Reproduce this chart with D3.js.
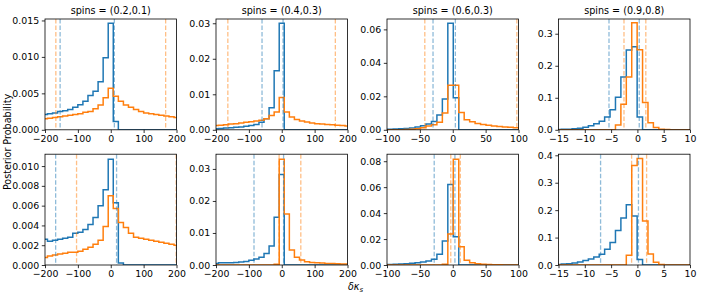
<!DOCTYPE html>
<html>
<meta charset="utf-8">
<style>
body { margin: 0; background: #fff; }
text { font-family: "DejaVu Sans", sans-serif; }
.axis path.domain { display: none; }
.axis line { stroke: #000; stroke-width: 0.8; }
.axis text { font-size: 9.4px; fill: #000; }
</style>
<body>
<svg id="fig" width="701" height="297"></svg>
<script src="https://d3js.org/d3.v7.min.js"></script>
<script>

// panel titles (top row only)
var titles = ["spins = (0.2,0.1)", "spins = (0.4,0.3)", "spins = (0.6,0.3)", "spins = (0.9,0.8)"];

// x range and ticks per column
var xDomains = [[-200, 200], [-200, 200], [-100, 100], [-15, 10]];
var xTicks = [[-200, -100, 0, 100, 200], [-200, -100, 0, 100, 200], [-100, -50, 0, 50, 100], [-15, -10, -5, 0, 5, 10]];

// y range, ticks and tick format per panel (row major)
var yMax = [0.0152, 0.0312, 0.0662, 0.346, 0.0112, 0.0346, 0.0854, 0.404];
var yTicks = [
  [0, 0.005, 0.010, 0.015], [0, 0.01, 0.02, 0.03], [0, 0.02, 0.04, 0.06], [0, 0.1, 0.2, 0.3],
  [0, 0.002, 0.004, 0.006, 0.008, 0.010], [0, 0.01, 0.02, 0.03], [0, 0.02, 0.04, 0.06, 0.08], [0, 0.1, 0.2, 0.3, 0.4]
];
var yFormats = [".3f", ".2f", ".2f", ".1f", ".3f", ".2f", ".2f", ".1f"];

// histogram bins: left edge of first bin and bin width per panel
var binStart = [-207.9, -207.9, -107.1, -15.5, -207.9, -207.9, -107.1, -15.5];
var binWidth = [15.4, 15.4, 8.3, 1.03, 15.4, 15.4, 8.3, 1.03];

// blue histogram heights
var blueHist = [
  [0.0021, 0.0022, 0.0023, 0.0025, 0.0026, 0.0028, 0.0031, 0.00345, 0.0039, 0.0047, 0.0053, 0.0066, 0.0099, 0.0146, 0.00115, 0, 0, 0, 0, 0, 0, 0, 0, 0, 0, 0, 0],
  [0.0003, 0.0004, 0.0005, 0.0006, 0.0007, 0.0008, 0.0010, 0.0012, 0.0015, 0.0021, 0.0031, 0.0062, 0.0166, 0.0300, 0, 0, 0, 0, 0, 0, 0, 0, 0, 0, 0, 0, 0],
  [0.0003, 0.0004, 0.0005, 0.0006, 0.0008, 0.0011, 0.0016, 0.0024, 0.0034, 0.0050, 0.0088, 0.0184, 0.0636, 0.0192, 0, 0, 0, 0, 0, 0, 0, 0, 0, 0, 0],
  [0.001, 0.0015, 0.002, 0.003, 0.005, 0.008, 0.0125, 0.019, 0.027, 0.040, 0.063, 0.102, 0.165, 0.249, 0.259, 0.040, 0, 0, 0, 0, 0, 0, 0, 0, 0],
  [0.0026, 0.0024, 0.0025, 0.0026, 0.0027, 0.0028, 0.0032, 0.0033, 0.0036, 0.0041, 0.0048, 0.0060, 0.0076, 0.0107, 0.0063, 0.0002, 0, 0, 0, 0, 0, 0, 0, 0, 0, 0, 0],
  [0.0005, 0.0007, 0.0007, 0.0007, 0.0008, 0.0009, 0.0011, 0.0015, 0.0019, 0.0024, 0.0036, 0.0059, 0.0149, 0.0283, 0, 0, 0, 0, 0, 0, 0, 0, 0, 0, 0, 0, 0],
  [0.0003, 0.0004, 0.0005, 0.0007, 0.0010, 0.0013, 0.0018, 0.0023, 0.0031, 0.0044, 0.0082, 0.0185, 0.0620, 0.0218, 0, 0, 0, 0, 0, 0, 0, 0, 0, 0, 0],
  [0.002, 0.0035, 0.005, 0.007, 0.011, 0.016, 0.022, 0.029, 0.039, 0.057, 0.082, 0.126, 0.171, 0.220, 0.179, 0.020, 0, 0, 0, 0, 0, 0, 0, 0, 0]
];

// orange histogram heights
var orangeHist = [
  [0.0015, 0.0016, 0.0017, 0.0018, 0.0019, 0.0020, 0.0021, 0.0022, 0.0024, 0.0025, 0.0029, 0.0034, 0.0044, 0.0057, 0.0046, 0.0039, 0.0034, 0.0031, 0.0028, 0.0025, 0.0023, 0.0022, 0.0021, 0.0020, 0.0019, 0.0018, 0.0017],
  [0.0012, 0.0013, 0.0014, 0.0016, 0.0017, 0.0019, 0.0021, 0.0023, 0.0025, 0.0027, 0.0031, 0.0040, 0.0050, 0.0091, 0.0050, 0.0036, 0.0029, 0.0025, 0.0022, 0.0019, 0.0017, 0.0016, 0.0015, 0.0014, 0.0013, 0.0012, 0.0011],
  [0, 0, 0, 0.0001, 0.0002, 0.0003, 0.0006, 0.0012, 0.0022, 0.0030, 0.0045, 0.0100, 0.0266, 0.0266, 0.0103, 0.0060, 0.0048, 0.0038, 0.0032, 0.0027, 0.0023, 0.0020, 0.0017, 0.0015, 0.0012],
  [0, 0, 0, 0, 0, 0, 0, 0, 0, 0, 0, 0.015, 0.080, 0.165, 0.334, 0.250, 0.085, 0.022, 0.007, 0.002, 0.001, 0.0005, 0, 0, 0],
  [0.00075, 0.0009, 0.0010, 0.0011, 0.0012, 0.0013, 0.0013, 0.0014, 0.0016, 0.0018, 0.0021, 0.0025, 0.0039, 0.0070, 0.0057, 0.0043, 0.0038, 0.0032, 0.0028, 0.0027, 0.0026, 0.0025, 0.0024, 0.0023, 0.0022, 0.0021, 0.0020],
  [0, 0, 0, 0, 0, 0, 0, 0, 0, 0, 0, 0, 0.0002, 0.0330, 0.0159, 0.0047, 0.0024, 0.0016, 0.0010, 0.0008, 0.0007, 0.0006, 0.0005, 0.0005, 0.0004, 0.0003, 0.0003],
  [0, 0, 0, 0, 0, 0, 0, 0, 0, 0, 0, 0.0005, 0.0238, 0.0815, 0.0140, 0.0036, 0.0018, 0.0010, 0.0005, 0.0003, 0.0002, 0.0001, 0, 0, 0],
  [0, 0, 0, 0, 0, 0, 0, 0, 0, 0, 0, 0, 0, 0.036, 0.363, 0.388, 0.160, 0.040, 0.010, 0.002, 0, 0, 0, 0, 0]
];

// dashed interval lines
var blueCI = [[-154, 11], [-60, 4], [-30, 4], [-5.4, 0.35], [-167.6, 17.7], [-84.4, 5.6], [-28.2, 3.3], [-7, 0.2]];
var orangeCI = [[-167, 167], [-164, 163], [-42.5, 97.5], [-2.55, 1.6], [-104, 199], [-8, 58], [-3, 11.5], [-1.1, 1.75]];

var blue = "#1f77b4", orange = "#ff7f0e";

var svg = d3.select("#fig");
svg.append("rect").attr("width", 701).attr("height", 297).attr("fill", "#fff");

var lefts = [45, 216, 387, 558.5],
    tops = [19, 154.2],
    w = 131.5,
    h = 110.8;

for (var p = 0; p < 8; p++) {
  var row = Math.floor(p / 4), col = p % 4;
  var g = svg.append("g").attr("transform", "translate(" + lefts[col] + "," + tops[row] + ")");

  var x = d3.scaleLinear().domain(xDomains[col]).range([0, w]);
  var y = d3.scaleLinear().domain([0, yMax[p]]).range([h, 0]);

  g.append("clipPath").attr("id", "clip" + p)
    .append("rect").attr("width", w).attr("height", h);

  var plot = g.append("g").attr("clip-path", "url(#clip" + p + ")");

  function stepPoints(vals) {
    var pts = [[binStart[p], 0]];
    vals.forEach(function(v, k) {
      var e0 = binStart[p] + k * binWidth[p];
      pts.push([e0, v], [e0 + binWidth[p], v]);
    });
    pts.push([binStart[p] + vals.length * binWidth[p], 0]);
    return pts;
  }

  var line = d3.line().x(function(d) { return x(d[0]); }).y(function(d) { return y(d[1]); });

  plot.append("path").datum(stepPoints(blueHist[p]))
    .attr("d", line).attr("fill", "none").attr("stroke", blue).attr("stroke-width", 1.5)
    .attr("stroke-linejoin", "miter");
  plot.append("path").datum(stepPoints(orangeHist[p]))
    .attr("d", line).attr("fill", "none").attr("stroke", orange).attr("stroke-width", 1.5)
    .attr("stroke-linejoin", "miter");

  [[blueCI[p], blue], [orangeCI[p], orange]].forEach(function(c) {
    plot.selectAll(null).data(c[0]).enter().append("line")
      .attr("x1", function(d) { return x(d); }).attr("x2", function(d) { return x(d); })
      .attr("y1", 0).attr("y2", h)
      .attr("stroke", c[1]).attr("stroke-opacity", 0.5).attr("stroke-width", 1.3)
      .attr("stroke-dasharray", "4.5,2");
  });

  g.append("g").attr("class", "axis").attr("transform", "translate(0," + h + ")")
    .call(d3.axisBottom(x).tickValues(xTicks[col]).tickFormat(d3.format("d"))
      .tickSize(3.2).tickSizeOuter(0).tickPadding(2));

  g.append("g").attr("class", "axis")
    .call(d3.axisLeft(y).tickValues(yTicks[p]).tickFormat(d3.format(yFormats[p]))
      .tickSize(3.2).tickSizeOuter(0).tickPadding(2.6));

  g.append("rect").attr("width", w).attr("height", h)
    .attr("fill", "none").attr("stroke", "#000").attr("stroke-width", 0.8);

  if (row === 0) {
    g.append("text").attr("x", w / 2).attr("y", -5.5)
      .attr("text-anchor", "middle").style("font-size", "9.6px")
      .text(titles[col]);
  }
}

svg.append("text")
  .attr("transform", "translate(11,142) rotate(-90)")
  .attr("text-anchor", "middle").style("font-size", "9.6px")
  .text("Posterior Probability");

var xl = svg.append("text").attr("x", 348).attr("y", 290)
  .style("font-size", "9.6px").style("font-style", "italic");
xl.append("tspan").text("δκ");
xl.append("tspan").attr("dy", 2).style("font-size", "7px").text("s");

</script>
</body>
</html>
